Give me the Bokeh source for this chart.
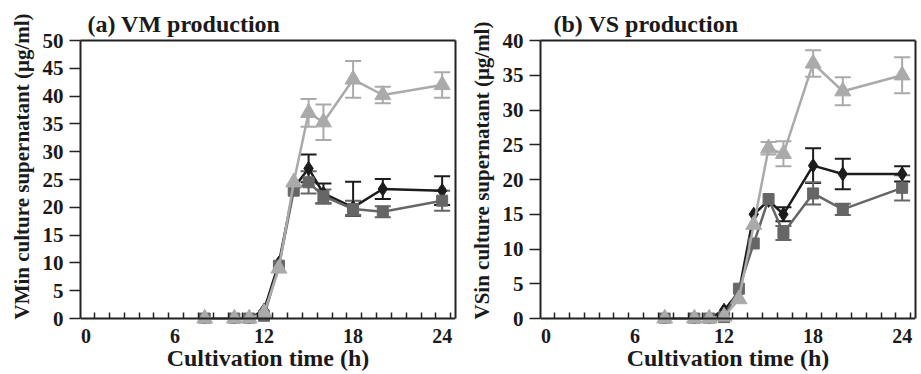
from bokeh.plotting import figure
from bokeh.layouts import row
from bokeh.models import (Range1d, LinearAxis, FixedTicker, Whisker, TeeHead,
                          ColumnDataSource, Title)
from bokeh.embed import file_html
from bokeh.resources import INLINE

# ---- data ----
hours = [8, 10, 11, 12, 13, 14, 15, 16, 18, 20, 24]

vm_diamond = [0, 0, 0, 1.5, 10.0, 23.5, 27.0, 22.5, 20.0, 23.3, 23.0]
vm_diamond_hi = [0, 0, 0, 0, 0, 0, 2.5, 1.8, 4.6, 1.8, 2.6]
vm_diamond_lo = [0, 0, 0, 0, 0, 0, 2.5, 1.8, 1.5, 1.8, 2.6]
vm_square = [0, 0, 0, 0.5, 9.5, 23.0, 24.5, 22.0, 19.7, 19.2, 21.2]
vm_square_hi = [0, 0, 0, 0, 0, 0, 2.0, 1.2, 1.5, 1.0, 1.8]
vm_square_lo = [0, 0, 0, 0, 0, 0, 2.0, 1.2, 1.1, 1.0, 1.8]
vm_triangle = [0, 0, 0, 1.0, 9.0, 24.5, 37.0, 35.3, 43.0, 40.2, 42.0]
vm_triangle_hi = [0, 0, 0, 0, 0, 0, 2.5, 3.2, 3.3, 1.5, 2.3]
vm_triangle_lo = [0, 0, 0, 0, 0, 0, 2.5, 3.2, 3.3, 1.5, 2.3]

vs_diamond = [0, 0, 0, 1.2, 3.8, 15.0, 17.0, 15.0, 22.0, 20.8, 20.8]
vs_diamond_hi = [0, 0, 0, 0, 0, 0, 0, 1.0, 2.5, 2.2, 1.1]
vs_diamond_lo = [0, 0, 0, 0, 0, 0, 0, 1.0, 2.5, 2.2, 1.1]
vs_square = [0, 0, 0, 0.2, 4.3, 10.8, 17.2, 12.3, 18.0, 15.7, 18.8]
vs_square_hi = [0, 0, 0, 0, 0, 0, 0, 1.0, 1.6, 0.8, 1.8]
vs_square_lo = [0, 0, 0, 0, 0, 0, 0, 1.0, 1.6, 0.8, 1.8]
vs_triangle = [0, 0, 0, 0.3, 2.8, 13.5, 24.5, 23.7, 36.7, 32.7, 35.0]
vs_triangle_hi = [0, 0, 0, 0, 0, 0, 0.9, 1.8, 1.9, 2.0, 2.6]
vs_triangle_lo = [0, 0, 0, 0, 0, 0, 0.9, 1.8, 1.9, 2.0, 2.6]

x_tick_labels = [0, 6, 12, 18, 24]

FONT = "Liberation Serif"
C_DIA = "#1c1c1c"
C_SQ = "#666666"
C_TRI = "#aaaaaa"
TXT = "#1a1a1a"
AX = "#222222"

FIG_H = 373
PLOT_H_PX = 281   # height of the 0..ymax span in pixels
PAD_PX = 5        # room below y=0 so markers on the axis are not cut


def line_only_axis(axis, bounds=None):
    axis.major_tick_line_color = None
    axis.minor_tick_line_color = None
    axis.major_tick_in = 0
    axis.major_tick_out = 0
    axis.major_label_text_font_size = "1px"
    axis.major_label_text_color = None
    axis.major_label_standoff = 0
    axis.axis_line_width = 2
    axis.axis_line_color = AX
    if bounds is not None:
        axis.bounds = bounds
    return axis


def panel(title, title_offset, ylabel, ymax, series, width, border_right):
    x0, x1 = -0.37, 24.9
    shift = 0.42
    pad = ymax * PAD_PX / PLOT_H_PX
    p = figure(width=width, height=FIG_H, x_range=Range1d(x0, x1),
               y_range=Range1d(-pad, ymax), output_backend="svg",
               toolbar_location=None, x_axis_type=None,
               min_border_left=80, min_border_right=border_right,
               min_border_top=40, min_border_bottom=FIG_H - 40 - PLOT_H_PX - PAD_PX,
               title=title)
    p.title.text_font = FONT
    p.title.text_font_size = "24px"
    p.title.text_font_style = "bold"
    p.title.text_color = TXT
    p.title.align = "left"
    p.title.offset = title_offset
    p.title.standoff = 7
    p.xgrid.visible = False
    p.ygrid.visible = False
    p.outline_line_color = None

    # frame borders (top and right)
    p.add_layout(line_only_axis(LinearAxis(ticker=FixedTicker(ticks=[]))), "above")
    p.add_layout(line_only_axis(LinearAxis(ticker=FixedTicker(ticks=[])),
                                bounds=(0, ymax)), "right")

    # tick-only x axis at y=0 (ticks every hour, inward)
    p.extra_x_ranges = {"ticks": Range1d(x0 + shift, x1 + shift)}
    tax = LinearAxis(x_range_name="ticks", fixed_location=0,
                     ticker=FixedTicker(ticks=list(range(0, 26))))
    tax.major_tick_in = 6
    tax.major_tick_out = 0
    tax.major_tick_line_width = 1.5
    tax.major_tick_line_color = AX
    tax.minor_tick_line_color = None
    tax.major_label_text_font_size = "1px"
    tax.major_label_text_color = None
    tax.major_label_standoff = 0
    tax.axis_line_width = 2
    tax.axis_line_color = AX
    p.add_layout(tax, "below")

    # label axis
    lax = LinearAxis(ticker=FixedTicker(ticks=x_tick_labels),
                     axis_label="Cultivation time (h)")
    lax.axis_line_color = None
    lax.major_tick_line_color = None
    lax.major_tick_in = 0
    lax.major_tick_out = 0
    lax.minor_tick_line_color = None
    lax.major_label_standoff = 5
    lax.major_label_text_font = FONT
    lax.major_label_text_font_size = "20px"
    lax.major_label_text_font_style = "bold"
    lax.major_label_text_color = TXT
    lax.axis_label_standoff = -1
    lax.axis_label_text_font = FONT
    lax.axis_label_text_font_size = "24px"
    lax.axis_label_text_font_style = "bold"
    lax.axis_label_text_color = TXT
    p.add_layout(lax, "below")

    ya = p.yaxis[0]
    ya.ticker = FixedTicker(ticks=list(range(0, ymax + 1, 5)))
    ya.bounds = (0, ymax)
    ya.major_tick_out = 11
    ya.major_tick_in = 0
    ya.major_tick_line_width = 1.5
    ya.major_tick_line_color = AX
    ya.minor_tick_line_color = None
    ya.axis_line_width = 2
    ya.axis_line_color = AX
    ya.major_label_standoff = 6
    ya.major_label_text_font = FONT
    ya.major_label_text_font_size = "21px"
    ya.major_label_text_font_style = "bold"
    ya.major_label_text_color = TXT

    yt = Title(text=ylabel, align="left", text_font=FONT,
               text_font_size="21px", text_font_style="bold",
               text_color=TXT, standoff=11, offset=PAD_PX - 1)
    p.add_layout(yt, "left")

    for vals, hi, lo, color, marker, size in series:
        p.line(hours, vals, line_color=color, line_width=2.5)
        idx = [i for i in range(len(hours)) if hi[i] > 0 or lo[i] > 0]
        src = ColumnDataSource(dict(x=[hours[i] for i in idx],
                                    upper=[vals[i] + hi[i] for i in idx],
                                    lower=[vals[i] - lo[i] for i in idx]))
        w = Whisker(source=src, base="x", upper="upper", lower="lower",
                    line_color=color, line_width=2,
                    upper_head=TeeHead(size=16, line_color=color, line_width=2),
                    lower_head=TeeHead(size=16, line_color=color, line_width=2))
        p.add_layout(w)
        p.scatter(hours, vals, marker=marker, size=size,
                  fill_color=color, line_color=color)
    return p


p1 = panel("(a) VM production", 7, "VMin culture supernatant (\u03bcg/ml)", 50,
           [(vm_diamond, vm_diamond_hi, vm_diamond_lo, C_DIA, "diamond", 14),
            (vm_square, vm_square_hi, vm_square_lo, C_SQ, "square", 11),
            (vm_triangle, vm_triangle_hi, vm_triangle_lo, C_TRI, "triangle", 16)],
           460, 5)
p2 = panel("(b) VS production", 13, "VSin culture supernatant (\u03bcg/ml)", 40,
           [(vs_diamond, vs_diamond_hi, vs_diamond_lo, C_DIA, "diamond", 14),
            (vs_square, vs_square_hi, vs_square_lo, C_SQ, "square", 11),
            (vs_triangle, vs_triangle_hi, vs_triangle_lo, C_TRI, "triangle", 16)],
           459, 4)

layout = row(p1, p2)
open("out.html", "w").write(file_html(layout, INLINE))
